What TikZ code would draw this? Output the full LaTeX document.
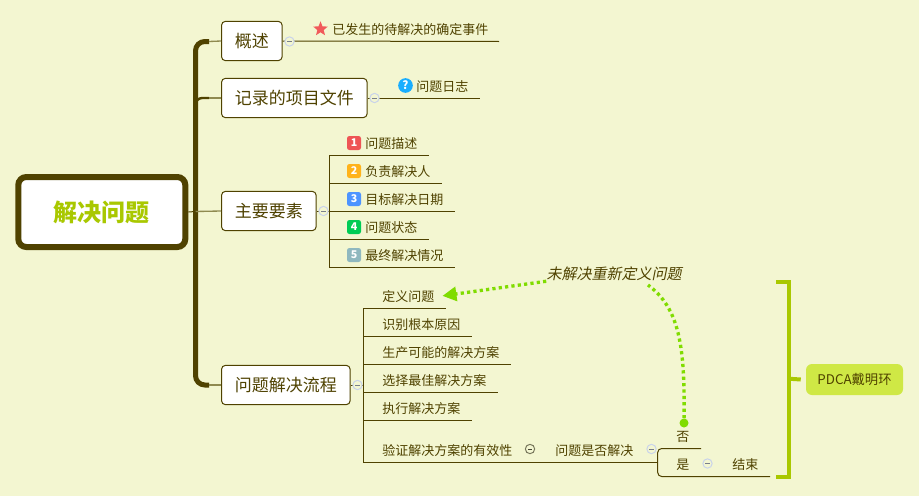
\documentclass[tikz,border=0pt]{standalone}
\usepackage{fontspec}
\setmainfont{Noto Sans CJK SC}
\newfontfamily\slantfont[FakeSlant=0.2]{Noto Sans CJK SC}
\usetikzlibrary{arrows.meta,calc,shapes.geometric}

\definecolor{paper}{HTML}{F3F6D1}
\definecolor{ink}{HTML}{4F4200}
\definecolor{twigcol}{HTML}{8F8A50}
\definecolor{lime}{HTML}{A9C800}
\definecolor{limefill}{HTML}{CFE845}
\definecolor{relcol}{HTML}{80DC00}
\definecolor{foldcol}{HTML}{C9D3EA}
\definecolor{folddark}{HTML}{77775C}
\definecolor{starcol}{HTML}{F15A5A}
\definecolor{askcol}{HTML}{1AAEFF}
\definecolor{onecol}{HTML}{EE5555}
\definecolor{twocol}{HTML}{FFB31A}
\definecolor{threecol}{HTML}{4D94FF}
\definecolor{fourcol}{HTML}{00CC55}
\definecolor{fivecol}{HTML}{8FB8BF}

\tikzset{
  topic/.style={draw=ink, fill=white, rounded corners=3pt, line width=0.75pt, text=ink,
    font=\fontsize{12.75pt}{15pt}\selectfont, inner xsep=10pt, inner ysep=0pt,
    minimum height=29.5pt, anchor=west},
  leaf/.style={text=ink, font=\fontsize{9.75pt}{12pt}\selectfont, inner sep=0pt, anchor=west, yshift=-0.75pt},
  rule/.style={draw=ink, line width=0.75pt},
  trunk/.style={draw=ink, line width=3.75pt},
  stub/.style={draw=ink, line width=1.8pt},
  twig/.style={draw=twigcol, line width=1pt},
  fold/.style={circle, draw=#1, fill=paper, line width=0.75pt, minimum size=7pt, inner sep=0pt,
    path picture={\draw[draw=#1!60!black, line width=0.6pt]
      ($(path picture bounding box.center)+(-1.6pt,0)$) -- ($(path picture bounding box.center)+(1.6pt,0)$);}},
  fold/.default=foldcol,
  badge/.style={fill=#1, rounded corners=1.8pt, minimum size=10.5pt, inner sep=0pt, text=white,
    font=\fontsize{8pt}{9pt}\selectfont\bfseries},
  relation/.style={draw=relcol, line width=2.5pt, dash pattern=on 2.4pt off 2.4pt}
}

\begin{document}
\begin{tikzpicture}[x=0.75pt, y=-0.75pt, >={Triangle[length=10.5pt,width=10.5pt]}]
  \fill[paper] (0,0) rectangle (919,496);
  \useasboundingbox (0,0) rectangle (919,496);

  \coordinate (T0) at (195.5,211.5);
  \coordinate (T1) at (209,41.5);
  \coordinate (T2) at (209,98);
  \coordinate (T4) at (209,385);
  \coordinate (B2) at (195.5,98);
  \coordinate (B3) at (329.5,211);
  \coordinate (B4) at (363.5,385);
  \coordinate (Fork) at (657.7,462);

  \coordinate (E1) at (499,41.5);
  \coordinate (E2) at (480,98);
  \coordinate (M1) at (429,155);
  \coordinate (M2) at (442,183);
  \coordinate (M3) at (455,211);
  \coordinate (M4) at (429,239);
  \coordinate (M5) at (455,267);
  \coordinate (P1) at (446,308);
  \coordinate (P2) at (472,336);
  \coordinate (P3) at (511,364);
  \coordinate (P4) at (498,392);
  \coordinate (P5) at (472,420);
  \coordinate (No) at (701,448.5);
  \coordinate (Yes) at (770,476.5);

  \draw[trunk, rounded corners=7pt] (T0) |- (T1);
  \draw[trunk, rounded corners=7pt] (T0) |- (T4);
  \draw[stub, rounded corners=5pt] (B2) ++(0,7) |- (T2);

  \node[draw=ink, fill=white, line width=4.5pt, rounded corners=6pt, minimum width=125.25pt,
    minimum height=52.5pt, inner sep=0pt, text=lime, font=\fontsize{18pt}{22pt}\selectfont\bfseries]
    (root) at (101.8,212) {解决问题};

  \node[topic] (over) at (221,41) {概述};
  \node[topic] (docs) at (221,98) {记录的项目文件};
  \node[topic] (main) at (221,211) {主要要素};
  \node[topic] (flow) at (221,385) {问题解决流程};

  \draw[twig] (T1) -- (over.west);
  \draw[twig] (T2) -- (docs.west);
  \draw[twig] (T4) -- (flow.west);
  \draw[twig] (T0) -- (main.west);
  \draw[rule] (root.east) -- (T0);

  \draw[rule] (over.east) -- (E1);
  \draw[rule] (docs.east) -- (E2);
  \draw[rule] (main.east) -- (M3);
  \draw[rule] (flow.east) -- (B4);

  \draw[rule] (B3) |- (M1);
  \draw[rule] (B3) |- (M2);
  \draw[rule] (B3) |- (M4);
  \draw[rule] (B3) |- (M5);

  \draw[rule] (B4) |- (P1);
  \draw[rule] (B4) |- (P2);
  \draw[rule] (B4) |- (P3);
  \draw[rule] (B4) |- (P4);
  \draw[rule] (B4) |- (P5);
  \draw[rule] (B4) |- (Fork);
  \draw[rule, rounded corners=3pt] (Fork) |- (No);
  \draw[rule, rounded corners=3pt] (Fork) |- (Yes);

  \node[fold] (foldA) at (289.5,41.5) {};
  \node[fold] (foldB) at (374.5,98) {};
  \node[fold] (foldC) at (323.5,211) {};
  \node[fold] (foldD) at (357.5,385) {};
  \node[fold=folddark] (foldE) at (530,449) {};
  \node[fold] (foldF) at (651.5,449) {};
  \node[fold] (foldG) at (707.5,463.5) {};

  \node[star, star points=5, star point ratio=2.3, fill=starcol, minimum size=11.5pt, inner sep=0pt] (star) at (320.5,29) {};
  \node[leaf] (event) at (332,29) {已发生的待解决的确定事件};
  \node[circle, fill=askcol, minimum size=11pt, inner sep=0pt, text=white,
    font=\fontsize{8.5pt}{9pt}\selectfont\bfseries] (ask) at (405.5,85.5) {?};
  \node[leaf] (log) at (416,86) {问题日志};

  \node[badge=onecol] (n1) at (354,143) {1};
  \node[leaf] (m1) at (365,143) {问题描述};
  \node[badge=twocol] (n2) at (354,171) {2};
  \node[leaf] (m2) at (365,171) {负责解决人};
  \node[badge=threecol] (n3) at (354,199) {3};
  \node[leaf] (m3) at (365,199) {目标解决日期};
  \node[badge=fourcol] (n4) at (354,227) {4};
  \node[leaf] (m4) at (365,227) {问题状态};
  \node[badge=fivecol] (n5) at (354,255) {5};
  \node[leaf] (m5) at (365,255) {最终解决情况};

  \node[leaf] (p1) at (382,296) {定义问题};
  \node[leaf] (p2) at (382,324) {识别根本原因};
  \node[leaf] (p3) at (382,352) {生产可能的解决方案};
  \node[leaf] (p4) at (382,380) {选择最佳解决方案};
  \node[leaf] (p5) at (382,408) {执行解决方案};
  \node[leaf] (p6) at (382,450) {验证解决方案的有效性};
  \node[leaf] (solved) at (555,450) {问题是否解决};
  \node[leaf] (no) at (676,436) {否};
  \node[leaf] (yes) at (676,464) {是};
  \node[leaf] (done) at (732,464) {结束};

  \node[text=ink, inner sep=0pt, font=\fontsize{11.25pt}{13pt}\selectfont\slantfont] (retry) at (614,274) {未解决重新定义问题};
  \node[circle, fill=relcol, minimum size=6.75pt, inner sep=0pt] (dot) at (684,423) {};
  \coordinate (Rin) at (648,285);
  \draw[relation] (dot) .. controls (685,345) and (679,308) .. (Rin);
  \draw[relation, ->, shorten >=6pt] (retry.south west) -- (p1.east);

  \coordinate (Br1) at (776,282);
  \coordinate (Br2) at (776,477);
  \coordinate (Br3) at (788.7,282);
  \coordinate (Br4) at (788.7,477);
  \coordinate (Br5) at (788.7,378.7);
  \node[fill=limefill, rounded corners=4.5pt, minimum width=72.75pt, minimum height=23.25pt, inner sep=0pt,
    text=ink, font=\fontsize{10pt}{12pt}\selectfont] (pdca) at (854.5,379.5) {PDCA戴明环};
  \draw[draw=lime, line width=3pt, line join=miter] (Br1) -- (Br3) -- (Br4) -- (Br2);
  \draw[draw=lime, line width=3pt] (Br5) -- ($(pdca.west)+(-3.75pt,0)$);
\end{tikzpicture}
\end{document}
